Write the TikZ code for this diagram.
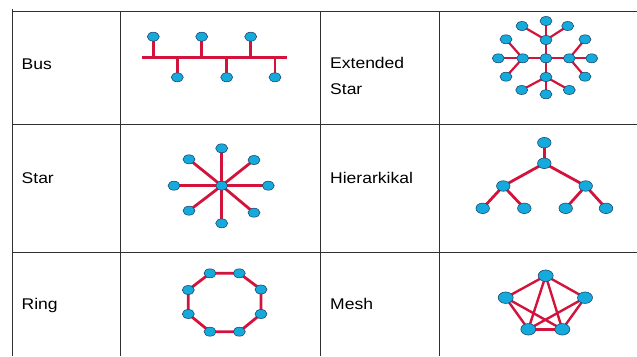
\documentclass[tikz,border=0pt]{standalone}
\usepackage{fontspec}
\setmainfont{Liberation Sans}
\usetikzlibrary{shapes.geometric,backgrounds}
\definecolor{linkred}{HTML}{D2143C}
\definecolor{nodefill}{HTML}{14ABDC}
\definecolor{nodeedge}{HTML}{1E4A72}
\definecolor{gridc}{HTML}{303030}
\tikzset{
  pc/.style={ellipse, draw=nodeedge, fill=nodefill, line width=0.6pt, minimum width=12pt, minimum height=9pt, inner sep=0pt},
  pcbig/.style={pc, minimum width=13.5pt, minimum height=10.5pt},
  pcmesh/.style={pc, minimum width=15pt, minimum height=11.5pt},
  link/.style={draw=linkred, line width=2.8pt},
  thinlink/.style={draw=linkred, line width=2.2pt},
  meshlink/.style={draw=linkred, line width=2.4pt},
  grid/.style={draw=gridc, line width=0.9pt},
  lbl/.style={anchor=base west, inner sep=0pt, font=\fontsize{15.5}{18}\selectfont}
}
\newcommand{\wlab}[1]{\scalebox{1.13}[1]{#1}}
\begin{document}
\begin{tikzpicture}[x=1pt,y=-1pt]
\useasboundingbox (0,0) rectangle (637,356);
% table grid
\draw[grid] (12,11) -- (637,11);
\draw[grid] (12,124) -- (637,124);
\draw[grid] (12,252) -- (637,252);
\draw[grid] (12,9) -- (12,356);
\draw[grid] (120.5,11) -- (120.5,356);
\draw[grid] (320,11) -- (320,356);
\draw[grid] (439,11) -- (439,356);
% labels
\node[lbl] (lbus) at (21.5,69) {\wlab{Bus}};
\node[lbl] (lext1) at (330,68) {\wlab{Extended}};
\node[lbl] (lext2) at (330,94) {\wlab{Star}};
\node[lbl] (lstar) at (21.5,183) {\wlab{Star}};
\node[lbl] (lhier) at (330,183) {\wlab{Hierarkikal}};
\node[lbl] (lring) at (21.5,309.5) {\wlab{Ring}};
\node[lbl] (lmesh) at (330,309.5) {\wlab{Mesh}};
% ---------- Bus ----------
\coordinate (busL) at (141.5,57.3);
\coordinate (busR) at (287,57.3);
\node[pc] (bt1) at (153.3,36.7) {};
\node[pc] (bt2) at (201.7,36.7) {};
\node[pc] (bt3) at (250.7,36.7) {};
\node[pc] (bb1) at (177.3,77.3) {};
\node[pc] (bb2) at (226.7,77.3) {};
\node[pc] (bb3) at (275,77.3) {};
\begin{scope}[on background layer]
\draw[link] (busL) -- (busR);
\foreach \n in {bt1,bt2,bt3,bb1,bb2,bb3}
  \draw[link] (\n.center) -- (\n.center |- busL);
\end{scope}
% ---------- Extended star ----------
\node[pc] (ec) at (546,58.3) {};
\node[pc] (eT) at (546,40) {};
\node[pc] (eB) at (546,77) {};
\node[pc] (eL) at (522.7,58.3) {};
\node[pc] (eR) at (569.3,58.3) {};
\node[pc] (eT1) at (522,26) {};
\node[pc] (eT2) at (546,21) {};
\node[pc] (eT3) at (567.7,26) {};
\node[pc] (eB1) at (521.7,90) {};
\node[pc] (eB2) at (546,94.3) {};
\node[pc] (eB3) at (569.3,90) {};
\node[pc] (eL1) at (506,39.3) {};
\node[pc] (eL2) at (498.3,58.3) {};
\node[pc] (eL3) at (506,76.7) {};
\node[pc] (eR1) at (585,39.3) {};
\node[pc] (eR2) at (591.7,58.3) {};
\node[pc] (eR3) at (585,76.7) {};
\begin{scope}[on background layer]
\foreach \n in {eT,eB,eL,eR} \draw[thinlink] (ec.center) -- (\n.center);
\foreach \n in {eT1,eT2,eT3} \draw[thinlink] (eT.center) -- (\n.center);
\foreach \n in {eB1,eB2,eB3} \draw[thinlink] (eB.center) -- (\n.center);
\foreach \n in {eL1,eL2,eL3} \draw[thinlink] (eL.center) -- (\n.center);
\foreach \n in {eR1,eR2,eR3} \draw[thinlink] (eR.center) -- (\n.center);
\end{scope}
% ---------- Star ----------
\node[pc] (sc) at (221.7,185.7) {};
\node[pc] (s1) at (221.7,148.3) {};
\node[pc] (s2) at (254,160) {};
\node[pc] (s3) at (268.3,185.7) {};
\node[pc] (s4) at (254,212.7) {};
\node[pc] (s5) at (221.7,223.3) {};
\node[pc] (s6) at (189,210.7) {};
\node[pc] (s7) at (174,185.7) {};
\node[pc] (s8) at (189,159.3) {};
\begin{scope}[on background layer]
\foreach \n in {s1,s2,s3,s4,s5,s6,s7,s8} \draw[link] (sc.center) -- (\n.center);
\end{scope}
% ---------- Hierarchical ----------
\node[pcbig] (h0) at (544.3,142.7) {};
\node[pcbig] (h1) at (544.3,163.3) {};
\node[pcbig] (hL) at (503.3,186) {};
\node[pcbig] (hR) at (585.7,186) {};
\node[pcbig] (hL1) at (482.7,208.3) {};
\node[pcbig] (hL2) at (524.3,208.3) {};
\node[pcbig] (hR1) at (565.7,208.3) {};
\node[pcbig] (hR2) at (606,208.3) {};
\begin{scope}[on background layer]
\draw[link] (h0.center) -- (h1.center);
\draw[link] (h1.center) -- (hL.center);
\draw[link] (h1.center) -- (hR.center);
\draw[link] (hL.center) -- (hL1.center);
\draw[link] (hL.center) -- (hL2.center);
\draw[link] (hR.center) -- (hR1.center);
\draw[link] (hR.center) -- (hR2.center);
\end{scope}
% ---------- Ring ----------
\node[pc] (r1) at (210,273.3) {};
\node[pc] (r2) at (239.3,273.3) {};
\node[pc] (r3) at (261,289.5) {};
\node[pc] (r4) at (261,314) {};
\node[pc] (r5) at (239.3,331.7) {};
\node[pc] (r6) at (210,331.7) {};
\node[pc] (r7) at (188.3,314) {};
\node[pc] (r8) at (188.3,290) {};
\begin{scope}[on background layer]
\draw[link] (r1.center) -- (r2.center) -- (r3.center) -- (r4.center) -- (r5.center) -- (r6.center) -- (r7.center) -- (r8.center) -- cycle;
\end{scope}
% ---------- Mesh ----------
\node[pcmesh] (m1) at (545.7,275.7) {};
\node[pcmesh] (m2) at (585,297.7) {};
\node[pcmesh] (m3) at (562.3,329.3) {};
\node[pcmesh] (m4) at (528.3,329.3) {};
\node[pcmesh] (m5) at (505.7,297.7) {};
\begin{scope}[on background layer]
\foreach \a/\b in {m1/m2,m1/m3,m1/m4,m1/m5,m2/m3,m2/m4,m3/m4,m3/m5,m4/m5}
  \draw[meshlink] (\a.center) -- (\b.center);
\end{scope}
\end{tikzpicture}
\end{document}
